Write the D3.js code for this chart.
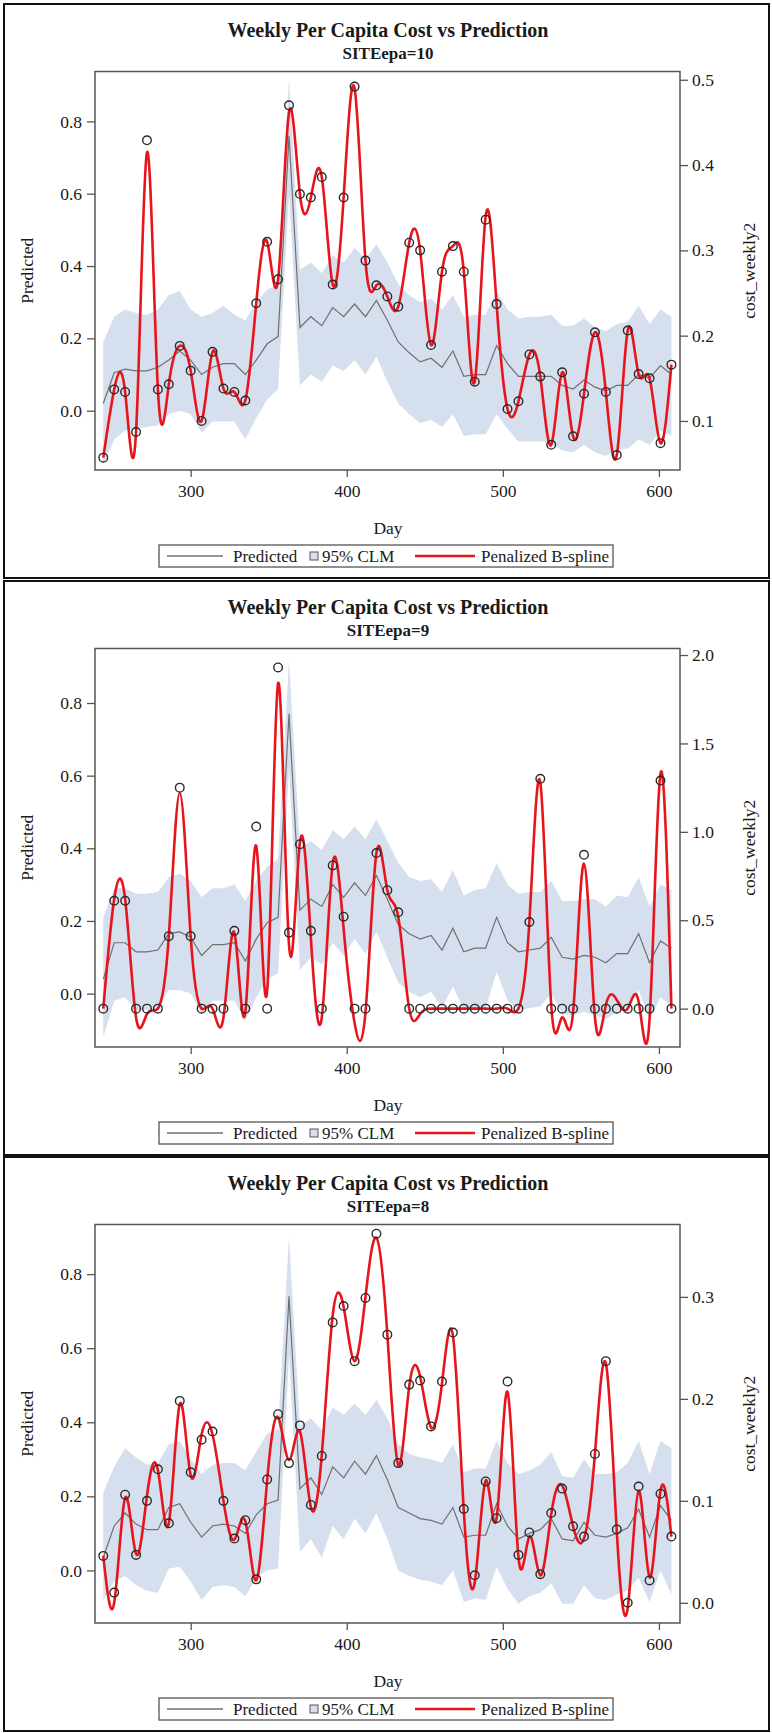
<!DOCTYPE html>
<html>
<head>
<meta charset="utf-8">
<script src="https://cdn.jsdelivr.net/npm/d3@7"></script>
<style>
  body { margin: 0; background: #fff; }
  svg text { font-family: "Liberation Serif", "Times New Roman", serif !important; fill: #1a1a1a; }
</style>
</head>
<body>
<div id="chart"></div>
<script>
// weekly observation days (same for every site)
let days = [244,251,258,265,272,279,286,293,300,307,314,321,328,335,342,349,356,363,370,377,
            384,391,398,405,412,419,426,433,440,447,454,461,468,475,482,489,496,503,510,517,
            524,531,538,545,552,559,566,573,580,587,594,601,608];
let xTicks = [300, 400, 500, 600];
let leftTicks = [0.0, 0.2, 0.4, 0.6, 0.8];

let mainTitle = "Weekly Per Capita Cost vs Prediction";
let subTitles = ["SITEepa=10", "SITEepa=9", "SITEepa=8"];

// SITEepa=10
let cost10 = [0.057,0.137,0.134,0.087,0.429,0.137,0.143,0.188,0.159,0.100,
              0.181,0.138,0.134,0.124,0.238,0.310,0.266,0.470,0.366,0.362,
              0.386,0.260,0.362,0.492,0.288,0.259,0.246,0.234,0.309,0.300,
              0.189,0.275,0.305,0.275,0.146,0.336,0.237,0.114,0.123,0.178,
              0.152,0.072,0.157,0.082,0.132,0.204,0.134,0.060,0.206,0.155,
              0.150,0.074,0.166];
let spline10 = [0.057,0.137,0.134,0.087,0.415,0.137,0.143,0.188,0.159,0.100,
              0.181,0.138,0.134,0.124,0.238,0.310,0.266,0.462,0.366,0.362,
              0.386,0.260,0.362,0.490,0.288,0.259,0.246,0.234,0.309,0.300,
              0.189,0.275,0.305,0.275,0.146,0.340,0.237,0.114,0.123,0.178,
              0.152,0.072,0.157,0.082,0.132,0.204,0.134,0.060,0.206,0.155,
              0.150,0.074,0.166];
let pred10 = [0.02,0.105,0.115,0.11,0.11,0.12,0.14,0.165,0.14,0.10,
              0.12,0.13,0.13,0.10,0.14,0.185,0.205,0.76,0.23,0.26,
              0.235,0.285,0.26,0.295,0.26,0.305,0.25,0.19,0.16,0.135,
              0.145,0.12,0.165,0.095,0.10,0.10,0.18,0.13,0.095,0.095,
              0.095,0.095,0.07,0.06,0.085,0.065,0.055,0.07,0.07,0.10,
              0.09,0.125,0.10];
let upper10 = [0.19,0.26,0.28,0.27,0.265,0.28,0.32,0.33,0.28,0.26,
              0.27,0.29,0.265,0.25,0.30,0.335,0.35,0.92,0.39,0.41,
              0.38,0.43,0.41,0.45,0.42,0.46,0.41,0.35,0.32,0.30,
              0.31,0.28,0.32,0.26,0.265,0.265,0.33,0.28,0.255,0.26,
              0.26,0.265,0.235,0.235,0.255,0.23,0.22,0.24,0.245,0.29,
              0.24,0.28,0.26];
let lower10 = [-0.15,-0.08,-0.055,-0.05,-0.045,-0.04,-0.01,0.0,-0.01,-0.06,
              -0.03,-0.03,-0.03,-0.08,-0.02,0.03,0.06,0.60,0.07,0.10,
              0.08,0.125,0.11,0.14,0.10,0.15,0.08,0.02,-0.01,-0.035,
              -0.025,-0.045,-0.01,-0.07,-0.065,-0.065,-0.01,-0.05,-0.085,-0.085,
              -0.085,-0.09,-0.11,-0.115,-0.095,-0.115,-0.125,-0.105,-0.105,-0.08,
              -0.095,-0.055,-0.07];
let rightTicks10 = [0.1, 0.2, 0.3, 0.4, 0.5];

// SITEepa=9
let cost9 = [0,0.61,0.61,0,0,0,0.41,1.25,0.41,0,
             0,0,0.44,0,1.03,0,1.93,0.43,0.93,0.44,
             0,0.81,0.52,0,0,0.88,0.67,0.545,0,0,
             0,0,0,0,0,0,0,0,0,0.49,
             1.30,0,0,0,0.87,0,0,0,0,0,
             0,1.29,0];
let spline9 = [0,0.62,0.62,-0.05,-0.03,0.0,0.41,1.22,0.41,0.0,
             0.0,-0.05,0.43,-0.02,0.92,0.10,1.84,0.36,0.94,0.40,
             -0.05,0.82,0.45,-0.08,-0.02,0.88,0.67,0.52,0.0,-0.03,
             0,0,0,0,0,0,0,0,0,0.49,
             1.28,0.02,-0.05,-0.02,0.82,-0.05,0.02,0.05,0.0,0.04,
             -0.06,1.33,0];
let pred9 = [0.04,0.14,0.14,0.115,0.115,0.12,0.165,0.17,0.155,0.105,
             0.135,0.135,0.14,0.09,0.15,0.195,0.21,0.77,0.23,0.26,
             0.24,0.30,0.265,0.305,0.27,0.325,0.26,0.19,0.165,0.15,
             0.16,0.12,0.18,0.115,0.125,0.125,0.21,0.14,0.115,0.12,
             0.125,0.155,0.10,0.095,0.105,0.10,0.085,0.11,0.11,0.165,
             0.085,0.145,0.125];
let upper9 = [0.21,0.29,0.29,0.275,0.275,0.28,0.32,0.33,0.31,0.265,
             0.29,0.29,0.30,0.255,0.31,0.35,0.37,0.92,0.40,0.42,
             0.395,0.45,0.425,0.46,0.425,0.48,0.42,0.36,0.32,0.31,
             0.315,0.28,0.34,0.27,0.285,0.29,0.36,0.30,0.275,0.28,
             0.28,0.31,0.255,0.255,0.26,0.26,0.24,0.27,0.265,0.32,
             0.24,0.30,0.285];
let lower9 = [-0.12,-0.02,-0.01,-0.045,-0.045,-0.04,0.01,0.01,0.0,-0.055,
             -0.02,-0.02,-0.02,-0.075,-0.01,0.04,0.055,0.62,0.065,0.10,
             0.08,0.14,0.105,0.15,0.11,0.17,0.10,0.03,0.005,-0.01,
             0.005,-0.04,0.02,-0.045,-0.04,-0.04,0.06,-0.02,-0.045,-0.04,
             -0.035,0.0,-0.055,-0.06,-0.05,-0.06,-0.07,-0.05,-0.045,0.01,
             -0.07,-0.01,-0.035];
let rightTicks9 = [0.0, 0.5, 1.0, 1.5, 2.0];

// SITEepa=8
let cost8 = [0.046,0.010,0.106,0.047,0.100,0.131,0.078,0.198,0.128,0.160,
             0.168,0.100,0.063,0.081,0.023,0.121,0.185,0.137,0.174,0.096,
             0.144,0.275,0.291,0.237,0.299,0.362,0.263,0.137,0.214,0.218,
             0.173,0.217,0.265,0.092,0.027,0.119,0.083,0.217,0.047,0.069,
             0.028,0.088,0.112,0.075,0.065,0.146,0.237,0.072,0.0,0.114,
             0.022,0.107,0.065];
let spline8 = [0.046,0.0,0.103,0.048,0.105,0.13,0.078,0.195,0.125,0.165,
             0.165,0.10,0.062,0.08,0.022,0.12,0.182,0.14,0.168,0.094,
             0.145,0.282,0.29,0.237,0.30,0.358,0.263,0.135,0.212,0.222,
             0.172,0.215,0.262,0.09,0.02,0.12,0.083,0.207,0.045,0.065,
             0.027,0.087,0.115,0.075,0.063,0.146,0.235,0.07,-0.005,0.11,
             0.025,0.11,0.065];
let pred8 = [0.035,0.12,0.155,0.125,0.11,0.11,0.17,0.18,0.13,0.09,
             0.12,0.125,0.12,0.10,0.15,0.18,0.19,0.74,0.22,0.25,
             0.205,0.28,0.25,0.295,0.26,0.31,0.245,0.17,0.155,0.14,
             0.135,0.125,0.17,0.09,0.095,0.095,0.18,0.12,0.085,0.10,
             0.11,0.14,0.085,0.08,0.13,0.095,0.09,0.10,0.115,0.165,
             0.09,0.175,0.135];
let upper8 = [0.21,0.28,0.33,0.305,0.285,0.29,0.34,0.35,0.30,0.26,
             0.285,0.29,0.29,0.27,0.32,0.37,0.38,0.90,0.39,0.41,
             0.38,0.44,0.42,0.45,0.42,0.46,0.41,0.34,0.315,0.305,
             0.30,0.29,0.34,0.265,0.275,0.275,0.35,0.29,0.26,0.27,
             0.285,0.32,0.255,0.25,0.30,0.26,0.26,0.265,0.29,0.35,
             0.26,0.35,0.33];
let lower8 = [-0.08,-0.03,-0.015,-0.04,-0.055,-0.06,0.005,0.01,-0.03,-0.08,
             -0.045,-0.04,-0.045,-0.07,-0.02,0.0,0.005,0.58,0.05,0.085,
             0.035,0.12,0.085,0.14,0.10,0.155,0.085,0.0,-0.015,-0.025,
             -0.03,-0.04,0.0,-0.085,-0.075,-0.08,0.01,-0.05,-0.09,-0.07,
             -0.06,-0.035,-0.09,-0.09,-0.04,-0.075,-0.08,-0.065,-0.055,-0.02,
             -0.085,0.0,-0.065];
let rightTicks8 = [0.0, 0.1, 0.2, 0.3];

let W = 772, H = 1733;
let frameL = 95, frameR = 680;
let serif = "'Liberation Serif', 'Times New Roman', serif";

let panels = [
  {sub: subTitles[0], top: 4, cost: cost10, spline: spline10, pred: pred10, up: upper10, lo: lower10,
   leftDom: [-0.164, 0.938], rightDom: [0.0425, 0.5097], rTicks: rightTicks10},
  {sub: subTitles[1], top: 581, cost: cost9, spline: spline9, pred: pred9, up: upper9, lo: lower9,
   leftDom: [-0.147, 0.950], rightDom: [-0.217, 2.037], rTicks: rightTicks9},
  {sub: subTitles[2], top: 1157, cost: cost8, spline: spline8, pred: pred8, up: upper8, lo: lower8,
   leftDom: [-0.142, 0.934], rightDom: [-0.0198, 0.371], rTicks: rightTicks8}
];

let svg = d3.select("#chart").append("svg")
    .attr("width", W).attr("height", H);

let x = d3.scaleLinear().domain([238.7, 613.5]).range([frameL, frameR]);
let fmt = d3.format(".1f");

panels.forEach(function (p, k) {
  let g = svg.append("g").attr("transform", "translate(0," + p.top + ")");
  let fTop = 67.5, fBot = 466;

  // panel border
  g.append("rect").attr("x", 4).attr("y", 0).attr("width", 765).attr("height", 574)
    .attr("fill", "none").attr("stroke", "#111").attr("stroke-width", 2);

  g.append("text").attr("x", 388).attr("y", 33).attr("text-anchor", "middle")
    .attr("font-size", 20).attr("font-weight", "bold").text(mainTitle);
  g.append("text").attr("x", 388).attr("y", 55).attr("text-anchor", "middle")
    .attr("font-size", 17).attr("font-weight", "bold").text(p.sub);

  let yL = d3.scaleLinear().domain(p.leftDom).range([fBot, fTop]);
  let yR = d3.scaleLinear().domain(p.rightDom).range([fBot, fTop]);

  let rows = days.map(function (d, i) {
    return {day: d, cost: p.cost[i], spl: p.spline[i], pred: p.pred[i], up: p.up[i], lo: p.lo[i]};
  });

  let clipId = "clip" + k;
  g.append("clipPath").attr("id", clipId).append("rect")
    .attr("x", frameL).attr("y", fTop).attr("width", frameR - frameL).attr("height", fBot - fTop);
  let plot = g.append("g").attr("clip-path", "url(#" + clipId + ")");

  // 95% CLM band
  plot.append("path").datum(rows)
    .attr("fill", "#d5dfee")
    .attr("d", d3.area().x(d => x(d.day)).y0(d => yL(d.lo)).y1(d => yL(d.up)));

  // predicted line
  plot.append("path").datum(rows)
    .attr("fill", "none").attr("stroke", "#707070").attr("stroke-width", 1.2)
    .attr("d", d3.line().x(d => x(d.day)).y(d => yL(d.pred)));

  // penalized B-spline
  plot.append("path").datum(rows)
    .attr("fill", "none").attr("stroke", "#e8141b").attr("stroke-width", 2.6)
    .attr("d", d3.line().curve(d3.curveNatural).x(d => x(d.day)).y(d => yR(d.spl)));

  // observed points
  plot.selectAll("circle").data(rows).enter().append("circle")
    .attr("cx", d => x(d.day)).attr("cy", d => yR(d.cost)).attr("r", 4.3)
    .attr("fill", "none").attr("stroke", "#2a2a2a").attr("stroke-width", 1.4);

  // frame
  g.append("rect").attr("x", frameL).attr("y", fTop)
    .attr("width", frameR - frameL).attr("height", fBot - fTop)
    .attr("fill", "none").attr("stroke", "#555").attr("stroke-width", 1.5);

  // axes
  let ax = g.append("g").attr("transform", "translate(0," + fBot + ")")
    .call(d3.axisBottom(x).tickValues(xTicks).tickSize(7).tickPadding(8));
  let al = g.append("g").attr("transform", "translate(" + frameL + ",0)")
    .call(d3.axisLeft(yL).tickValues(leftTicks).tickFormat(fmt).tickSize(8).tickPadding(5));
  let ar = g.append("g").attr("transform", "translate(" + frameR + ",0)")
    .call(d3.axisRight(yR).tickValues(p.rTicks).tickFormat(fmt).tickSize(8).tickPadding(4));
  [ax, al, ar].forEach(function (a) {
    a.attr("font-family", null).attr("font-size", null);
    a.select(".domain").remove();
    a.selectAll("line").attr("stroke", "#555").attr("stroke-width", 1.3);
    a.selectAll("text").style("font-size", "17.5px").attr("fill", "#1a1a1a");
  });

  // axis titles
  g.append("text").attr("x", 388).attr("y", 530).attr("text-anchor", "middle")
    .attr("font-size", 17.5).text("Day");
  g.append("text").attr("transform", "translate(33," + ((fTop + fBot) / 2) + ") rotate(-90)")
    .attr("text-anchor", "middle").attr("font-size", 17.5).text("Predicted");
  g.append("text").attr("transform", "translate(755," + ((fTop + fBot) / 2) + ") rotate(-90)")
    .attr("text-anchor", "middle").attr("font-size", 17.5).text("cost_weekly2");

  // legend
  let lg = g.append("g").attr("transform", "translate(0,552)");
  lg.append("rect").attr("x", 159).attr("y", -11).attr("width", 454).attr("height", 22)
    .attr("fill", "#fff").attr("stroke", "#555").attr("stroke-width", 1.3);
  lg.append("line").attr("x1", 167).attr("x2", 223).attr("y1", 0).attr("y2", 0)
    .attr("stroke", "#707070").attr("stroke-width", 1.3);
  lg.append("text").attr("x", 233).attr("y", 5.5).attr("font-size", 17).text("Predicted");
  lg.append("rect").attr("x", 310).attr("y", -4).attr("width", 8).attr("height", 8)
    .attr("fill", "#d5dfee").attr("stroke", "#555").attr("stroke-width", 1);
  lg.append("text").attr("x", 322).attr("y", 5.5).attr("font-size", 17).text("95% CLM");
  lg.append("line").attr("x1", 415).attr("x2", 475).attr("y1", 0).attr("y2", 0)
    .attr("stroke", "#e8141b").attr("stroke-width", 2.6);
  lg.append("text").attr("x", 481).attr("y", 5.5).attr("font-size", 17).text("Penalized B-spline");
});
</script>
</body>
</html>
